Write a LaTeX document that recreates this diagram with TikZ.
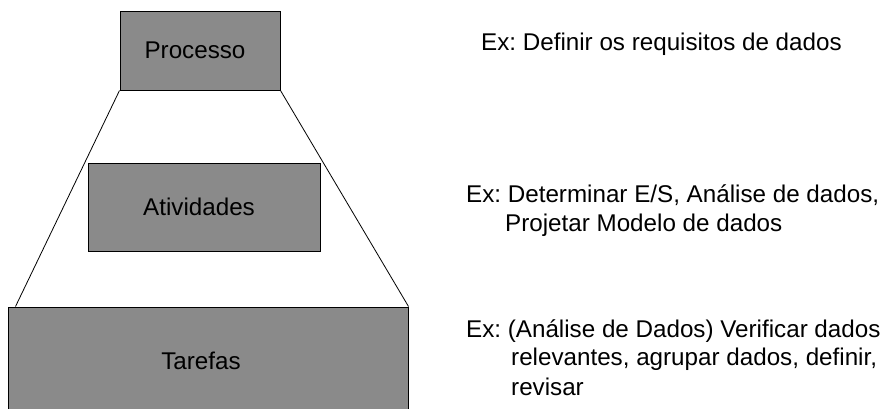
\documentclass[tikz,border=0pt]{standalone}
\usepackage{fontspec}
\setmainfont{Liberation Sans}
\usetikzlibrary{calc}
\definecolor{cinza}{RGB}{138,138,138}
\tikzset{
	caixa/.style={draw, line width=1pt, fill=cinza, inner sep=0pt},
	linha/.style={line width=0.8pt},
	exemplo/.style={anchor=base west, inner sep=0pt}
}
\frenchspacing
\begin{document}
\begin{tikzpicture}[x=1pt, y=-1pt, font=\fontsize{24.2}{29}\selectfont]
		\clip (0,0) rectangle (880,408);
		\fill[white] (0,0) rectangle (880,408);
		% niveis
		\node[caixa, minimum width=160pt, minimum height=79pt] (processo) at (200,50.5) {Processo\hspace*{10pt}};
		\node[caixa, minimum width=232pt, minimum height=88pt] (atividades) at (204,207) {Atividades\hspace*{10pt}};
		\node[caixa, minimum width=400pt, minimum height=108pt] (tarefas) at (208,361) {Tarefas\hspace*{14pt}};
		\coordinate (pe) at ($(tarefas.north west)+(8,0)$);
		\draw[linha] (processo.south west) -- (pe);
		\draw[linha] (processo.south east) -- (tarefas.north east);
		% exemplos
		\node[exemplo] (ex1) at (481,50) {Ex: Definir os requisitos de dados};
		\node[exemplo] (ex2) at (466,202) {Ex: Determinar E/S, Análise de dados,};
		\node[exemplo] (ex2b) at (505,231) {Projetar Modelo de dados};
		\node[exemplo] (ex3) at (466,337) {Ex: (Análise de Dados) Verificar dados};
		\node[exemplo] (ex3b) at (511,365) {relevantes, agrupar dados, definir,};
		\node[exemplo] (ex3c) at (511,395) {revisar};
	\end{tikzpicture}
\end{document}
